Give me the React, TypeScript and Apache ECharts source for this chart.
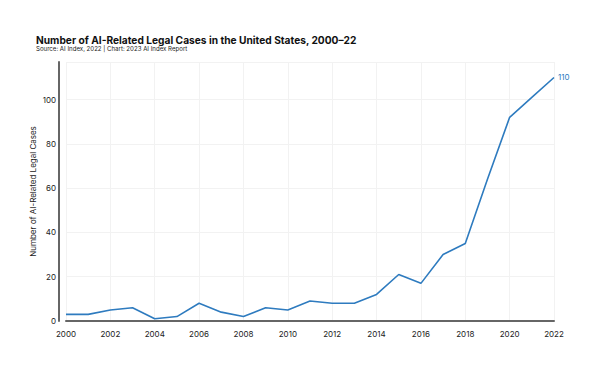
import React, { useEffect, useRef } from "react";
import * as echarts from "echarts";

const years = ["2000","2001","2002","2003","2004","2005","2006","2007","2008","2009","2010","2011","2012","2013","2014","2015","2016","2017","2018","2019","2020","2021","2022"];
const cases = [3, 3, 5, 6, 1, 2, 8, 4, 2, 6, 5, 9, 8, 8, 12, 21, 17, 30, 35, 64, 92, 101, 110];

const TITLE = "Number of AI-Related Legal Cases in the United States, 2000–22";
const SUBTITLE = "Source: AI Index, 2022 | Chart: 2023 AI Index Report";
const Y_NAME = "Number of AI-Related Legal Cases";

export default function App() {
  const ref = useRef<HTMLDivElement>(null);
  useEffect(() => {
    const chart = echarts.init(ref.current!, null, { renderer: "svg" });
    const font = "Inter, 'Liberation Sans', sans-serif";
    chart.setOption({
      animation: false,
      backgroundColor: "#ffffff",
      textStyle: { fontFamily: font },
      title: [
        {
          text: TITLE,
          left: 31,
          top: 30,
          textStyle: { fontSize: 10.2, fontWeight: "bold", color: "#111", fontFamily: font },
        },
        {
          text: SUBTITLE,
          left: 31,
          top: 40,
          textStyle: { fontSize: 6.1, fontWeight: "normal", color: "#222", fontFamily: font },
        },
      ],
      grid: { left: 66, right: 46, top: 62, bottom: 59 },
      xAxis: {
        type: "category",
        data: years,
        boundaryGap: false,
        offset: 4,
        axisLine: { show: true, lineStyle: { color: "#666", width: 2 } },
        axisTick: { show: false },
        axisLabel: { interval: 1, fontSize: 8, color: "#222", margin: 5 },
        splitLine: { show: true, interval: 1, lineStyle: { color: "#f2f2f2", width: 1 } },
      },
      yAxis: {
        type: "value",
        min: 0,
        max: 117,
        interval: 20,
        offset: 7,
        name: Y_NAME,
        nameLocation: "middle",
        nameGap: 22,
        nameMoveOverlap: false,
        nameTextStyle: { fontSize: 8, color: "#222" },
        axisLine: { show: true, lineStyle: { color: "#666", width: 2 } },
        axisTick: { show: false },
        axisLabel: {
          fontSize: 8,
          color: "#222",
          margin: 3,
          showMaxLabel: false,
        },
        splitLine: { show: true, lineStyle: { color: "#f2f2f2", width: 1 } },
      },
      series: [
        {
          type: "line",
          data: cases,
          symbol: "none",
          lineStyle: { color: "#2e7bbf", width: 1.6 },
          endLabel: {
            show: true,
            formatter: "{c}",
            color: "#2e7bbf",
            fontSize: 8,
            distance: 4,
          },
        },
      ],
    });
    return () => chart.dispose();
  }, []);
  return (
    <div
      ref={ref}
      style={{ width: 600, height: 380, position: "fixed", left: 0, top: 0 }}
    />
  );
}
